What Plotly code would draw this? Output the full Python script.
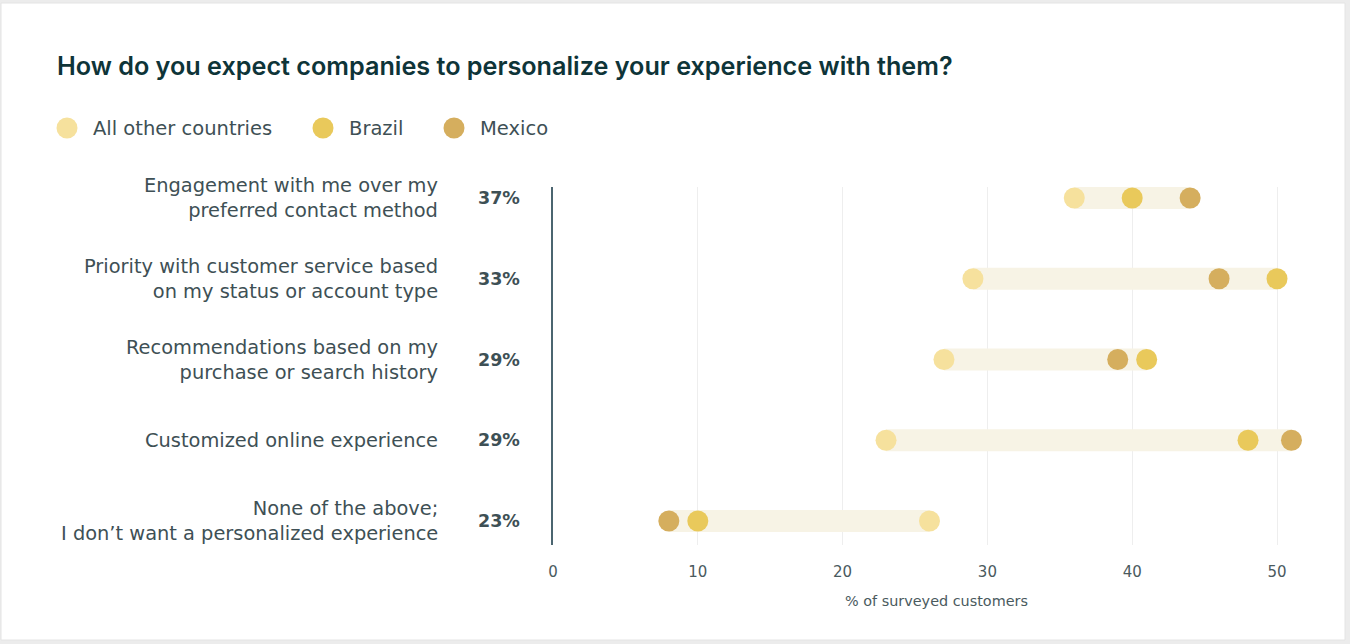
import plotly.graph_objects as go

# ---------------- data ----------------
categories = [
    "Engagement with me over my<br>preferred contact method",
    "Priority with customer service based<br>on my status or account type",
    "Recommendations based on my<br>purchase or search history",
    "Customized online experience",
    "None of the above;<br>I don\u2019t want a personalized experience",
]
overall_pct = ["37%", "33%", "29%", "29%", "23%"]
series_names = ["All other countries", "Brazil", "Mexico"]
all_other = [36, 29, 27, 23, 26]
brazil = [40, 50, 41, 48, 10]
mexico = [44, 46, 39, 51, 8]
tick_values = [0, 10, 20, 30, 40, 50]
x_title = "% of surveyed customers"
title_text = "How do you expect companies to personalize your experience with them?"

# ---------------- styles ----------------
colors = ["#f6e19d", "#e9c95b", "#d5ae5e"]
bar_color = "#f7f3e5"
text_color = "#3e5055"
title_color = "#0e3438"
FONT = "DejaVu Sans"

W, H = 1350, 644
ML, MR, MT, MB = 553, 30, 187, 99
PW, PH = W - ML - MR, H - MT - MB


def px2x(px):
    return (px - ML) / PW


def py2y(py):
    return (H - MB - py) / PH


fig = go.Figure()

series = [all_other, brazil, mexico]
ypos = list(range(len(categories)))

# range bars
for i in ypos:
    vals = [s[i] for s in series]
    fig.add_trace(go.Scatter(
        x=[min(vals), max(vals)], y=[i, i], mode="lines",
        line=dict(color=bar_color, width=22), hoverinfo="skip", showlegend=False))

# dots
for name, vals, col in zip(series_names, series, colors):
    fig.add_trace(go.Scatter(
        x=vals, y=ypos, mode="markers", name=name,
        marker=dict(color=col, size=21, line=dict(width=0)),
        showlegend=False))

annotations = []
shapes = []

# card background
shapes.append(dict(type="rect", xref="paper", yref="paper", layer="below",
                   x0=px2x(1), x1=px2x(1345), y0=py2y(640), y1=py2y(3),
                   fillcolor="white", line=dict(color="#e4e4e4", width=1)))

# category labels and pct labels
for i, (cat, pct) in enumerate(zip(categories, overall_pct)):
    annotations.append(dict(x=px2x(440), y=i, xref="paper", yref="y", text=cat,
                            xanchor="right", yanchor="middle", align="right", showarrow=False,
                            font=dict(family=FONT, size=19.4, color=text_color)))
    annotations.append(dict(x=px2x(522), y=i, xref="paper", yref="y", text=pct,
                            xanchor="right", yanchor="middle", showarrow=False,
                            font=dict(family=FONT, size=17.5, color=text_color, weight=700)))

# manual legend
legend_x = [67, 323, 454]
for name, col, lx in zip(series_names, colors, legend_x):
    r = 10.5
    shapes.append(dict(type="circle", xref="paper", yref="paper",
                       x0=px2x(lx - r), x1=px2x(lx + r), y0=py2y(128 + r), y1=py2y(128 - r),
                       fillcolor=col, line=dict(width=0)))
    annotations.append(dict(x=px2x(lx + 24), y=py2y(128), xref="paper", yref="paper", text=name,
                            xanchor="left", yanchor="middle", showarrow=False,
                            font=dict(family=FONT, size=19.5, color=text_color)))

fig.update_layout(
    width=W, height=H,
    margin=dict(l=ML, r=MR, t=MT, b=MB),
    paper_bgcolor="#ececec", plot_bgcolor="white",
    title=dict(text=title_text, x=57 / W, xanchor="left", xref="container",
               y=1 - 66 / H, yanchor="middle", yref="container",
               font=dict(family="Inter", size=25.2, color=title_color, weight=600)),
    xaxis=dict(range=[0, PW / 14.48], tickvals=tick_values, showgrid=True,
               gridcolor="#eeeeee", gridwidth=1, zeroline=False, showline=False,
               ticks="", ticklabelstandoff=16,
               tickfont=dict(family=FONT, size=15, color="#4a5a5e"),
               title=dict(text=x_title, font=dict(family=FONT, size=14.4, color="#4a5a5e"), standoff=15),
               fixedrange=True),
    yaxis=dict(range=[4.297, -0.136], showgrid=False, zeroline=False, showticklabels=False,
               showline=True, linecolor="#4b6570", linewidth=2, ticks="", fixedrange=True),
    annotations=annotations, shapes=shapes, showlegend=False,
)

fig.write_html("out.html", config={"displayModeBar": False},
               post_script="document.body.style.margin='0';document.body.style.padding='0';")
